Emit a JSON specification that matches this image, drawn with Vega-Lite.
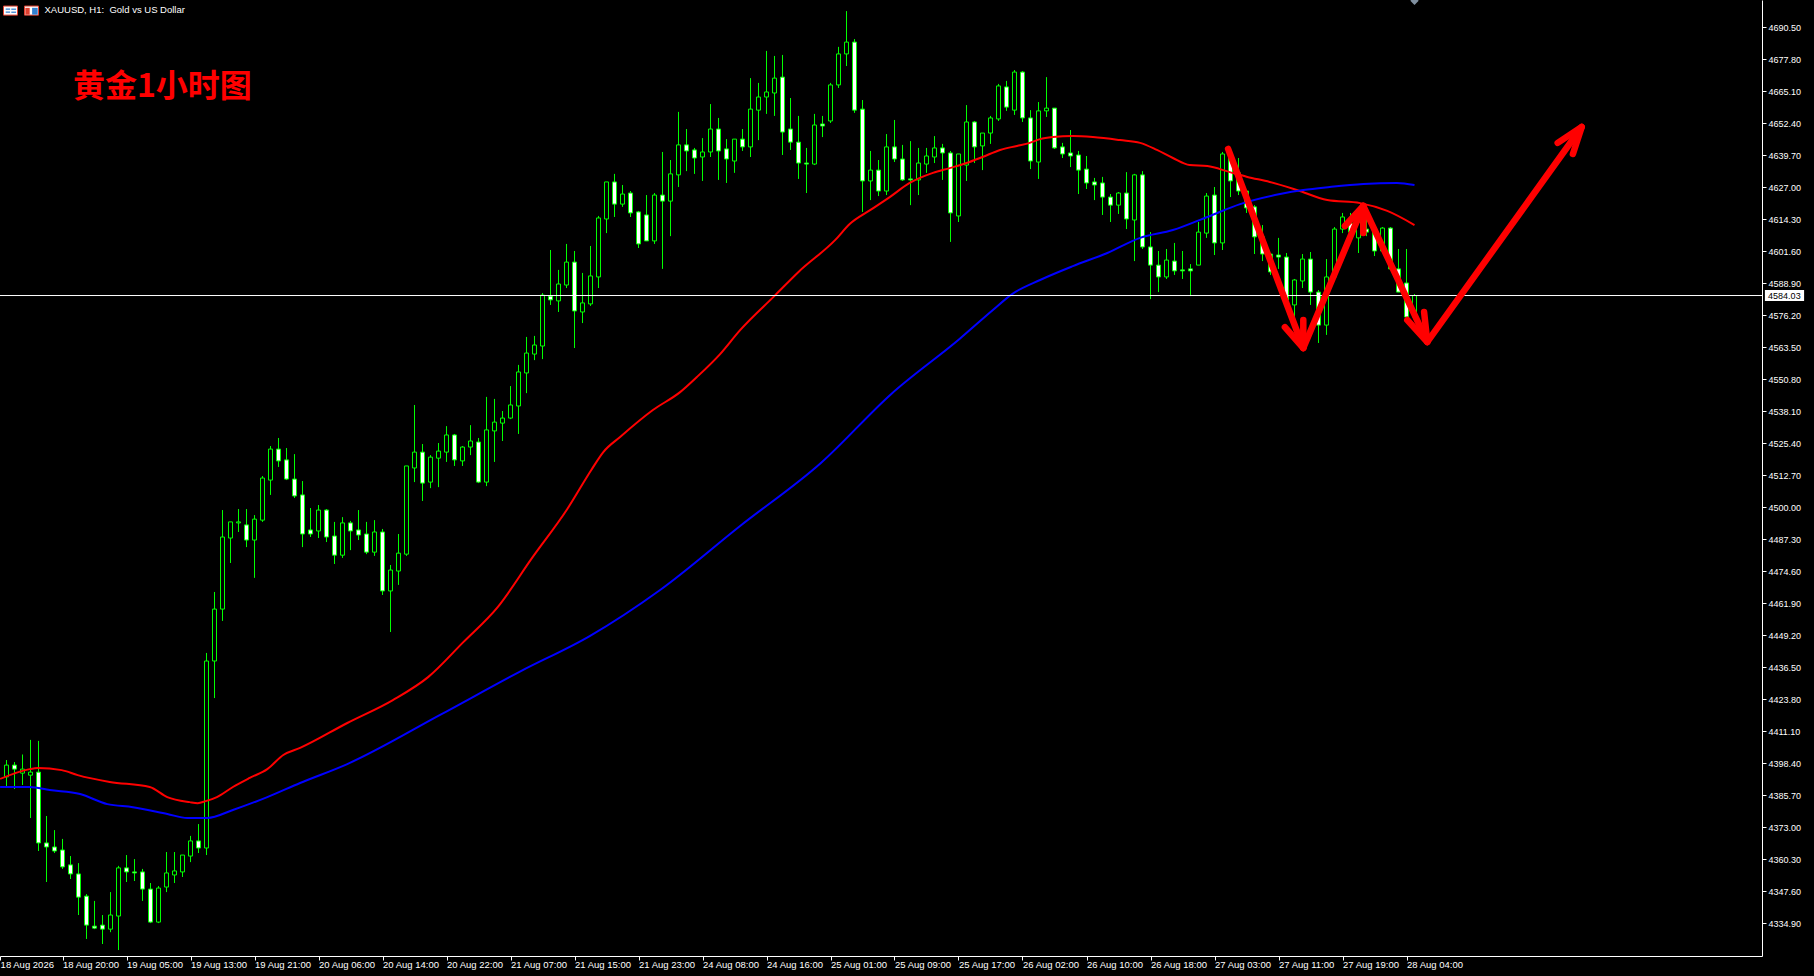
{"$schema":"https://vega.github.io/schema/vega-lite/v6.json","width":1762,"height":956,"autosize":"none","padding":{"left":0,"top":0,"right":52,"bottom":20},"background":"#000000","config":{"view":{"stroke":null},"font":"Liberation Sans","axis":{"labelOverlap":false,"labelBound":false,"labelFlush":false},"axisY":{"labelOverlap":false}},
"datasets":{"candles":[
{"i":0,"o":4393.0,"h":4399.7,"l":4389.4,"c":4397.7},{"i":1,"o":4397.7,"h":4398.9,"l":4388.2,"c":4396.1},{"i":2,"o":4394.5,"h":4401.9,"l":4389.8,"c":4396.1},{"i":3,"o":4393.7,"h":4407.7,"l":4376.7,"c":4394.9},{"i":4,"o":4394.9,"h":4407.3,"l":4363.6,"c":4366.8},{"i":5,"o":4366.8,"h":4377.5,"l":4351.3,"c":4365.2},{"i":6,"o":4365.2,"h":4371.9,"l":4362.8,"c":4363.6},{"i":7,"o":4364.0,"h":4368.4,"l":4356.5,"c":4357.3},{"i":8,"o":4358.1,"h":4361.6,"l":4352.5,"c":4354.5},{"i":9,"o":4354.5,"h":4358.8,"l":4338.2,"c":4345.3},
{"i":10,"o":4345.7,"h":4346.5,"l":4328.7,"c":4334.2},{"i":11,"o":4333.8,"h":4343.8,"l":4332.6,"c":4333.0},{"i":12,"o":4334.2,"h":4338.2,"l":4326.7,"c":4332.6},{"i":13,"o":4332.6,"h":4347.3,"l":4331.4,"c":4338.2},{"i":14,"o":4337.8,"h":4357.7,"l":4324.3,"c":4356.9},{"i":15,"o":4356.9,"h":4362.0,"l":4351.3,"c":4355.3},{"i":16,"o":4355.3,"h":4360.4,"l":4351.7,"c":4354.9},{"i":17,"o":4355.3,"h":4356.5,"l":4343.8,"c":4348.5},{"i":18,"o":4348.5,"h":4350.9,"l":4335.0,"c":4335.4},{"i":19,"o":4335.4,"h":4349.7,"l":4335.0,"c":4348.9},
{"i":20,"o":4349.3,"h":4363.2,"l":4347.3,"c":4354.9},{"i":21,"o":4354.1,"h":4363.2,"l":4350.9,"c":4355.7},{"i":22,"o":4355.3,"h":4362.0,"l":4353.3,"c":4362.0},{"i":23,"o":4361.6,"h":4369.6,"l":4359.2,"c":4367.6},{"i":24,"o":4367.6,"h":4374.3,"l":4362.8,"c":4364.8},{"i":25,"o":4364.8,"h":4442.2,"l":4362.0,"c":4439.0},{"i":26,"o":4439.0,"h":4466.4,"l":4424.3,"c":4459.6},{"i":27,"o":4459.6,"h":4498.9,"l":4454.9,"c":4488.2},{"i":28,"o":4487.8,"h":4494.2,"l":4477.9,"c":4494.2},{"i":29,"o":4493.8,"h":4499.3,"l":4490.2,"c":4494.2},
{"i":30,"o":4493.0,"h":4499.3,"l":4484.2,"c":4487.0},{"i":31,"o":4487.0,"h":4496.9,"l":4472.0,"c":4495.3},{"i":32,"o":4494.9,"h":4512.4,"l":4494.2,"c":4511.6},{"i":33,"o":4510.8,"h":4524.3,"l":4504.9,"c":4523.1},{"i":34,"o":4523.1,"h":4527.5,"l":4516.0,"c":4518.4},{"i":35,"o":4518.8,"h":4523.5,"l":4510.8,"c":4511.2},{"i":36,"o":4511.2,"h":4521.1,"l":4503.7,"c":4504.5},{"i":37,"o":4504.9,"h":4510.4,"l":4484.2,"c":4489.4},{"i":38,"o":4491.0,"h":4499.7,"l":4488.2,"c":4489.4},{"i":39,"o":4490.6,"h":4500.9,"l":4487.8,"c":4498.9},
{"i":40,"o":4498.9,"h":4499.3,"l":4486.2,"c":4488.2},{"i":41,"o":4488.6,"h":4494.2,"l":4477.5,"c":4481.0},{"i":42,"o":4481.0,"h":4496.1,"l":4479.9,"c":4493.8},{"i":43,"o":4493.8,"h":4494.6,"l":4483.0,"c":4490.6},{"i":44,"o":4491.0,"h":4498.9,"l":4487.0,"c":4489.0},{"i":45,"o":4489.4,"h":4494.2,"l":4481.4,"c":4482.2},{"i":46,"o":4482.2,"h":4494.9,"l":4480.7,"c":4490.2},{"i":47,"o":4490.2,"h":4491.4,"l":4465.2,"c":4466.8},{"i":48,"o":4466.8,"h":4477.1,"l":4450.5,"c":4475.1},{"i":49,"o":4474.7,"h":4489.4,"l":4469.2,"c":4481.8},
{"i":50,"o":4481.4,"h":4516.4,"l":4480.7,"c":4516.4},{"i":51,"o":4515.6,"h":4540.6,"l":4510.0,"c":4521.9},{"i":52,"o":4521.9,"h":4525.1,"l":4502.5,"c":4509.6},{"i":53,"o":4510.0,"h":4520.7,"l":4507.6,"c":4519.9},{"i":54,"o":4519.5,"h":4525.5,"l":4508.0,"c":4522.3},{"i":55,"o":4521.9,"h":4532.2,"l":4518.0,"c":4528.7},{"i":56,"o":4528.7,"h":4529.1,"l":4516.4,"c":4518.8},{"i":57,"o":4518.4,"h":4524.3,"l":4516.4,"c":4523.9},{"i":58,"o":4523.9,"h":4532.6,"l":4520.7,"c":4526.3},{"i":59,"o":4525.9,"h":4527.5,"l":4509.6,"c":4510.0},
{"i":60,"o":4510.0,"h":4543.8,"l":4508.4,"c":4530.7},{"i":61,"o":4530.3,"h":4543.0,"l":4518.0,"c":4533.8},{"i":62,"o":4533.4,"h":4538.2,"l":4526.3,"c":4535.4},{"i":63,"o":4535.4,"h":4548.1,"l":4535.0,"c":4540.6},{"i":64,"o":4540.2,"h":4556.5,"l":4529.1,"c":4553.7},{"i":65,"o":4553.3,"h":4567.6,"l":4545.3,"c":4561.2},{"i":66,"o":4560.8,"h":4568.0,"l":4558.4,"c":4564.4},{"i":67,"o":4564.0,"h":4585.0,"l":4558.8,"c":4584.2},{"i":68,"o":4583.8,"h":4602.1,"l":4580.3,"c":4582.3},{"i":69,"o":4581.9,"h":4594.2,"l":4577.5,"c":4588.6},
{"i":70,"o":4588.2,"h":4604.5,"l":4587.0,"c":4597.3},{"i":71,"o":4597.3,"h":4601.7,"l":4563.2,"c":4577.9},{"i":72,"o":4577.5,"h":4593.0,"l":4573.1,"c":4581.1},{"i":73,"o":4580.7,"h":4603.7,"l":4579.9,"c":4591.8},{"i":74,"o":4591.4,"h":4615.6,"l":4587.0,"c":4614.8},{"i":75,"o":4614.4,"h":4629.1,"l":4608.8,"c":4629.1},{"i":76,"o":4629.1,"h":4632.3,"l":4615.2,"c":4620.3},{"i":77,"o":4620.3,"h":4627.9,"l":4619.2,"c":4624.3},{"i":78,"o":4624.7,"h":4625.5,"l":4615.2,"c":4616.8},{"i":79,"o":4617.2,"h":4617.6,"l":4602.9,"c":4604.5},
{"i":80,"o":4616.0,"h":4623.9,"l":4605.7,"c":4605.7},{"i":81,"o":4605.7,"h":4624.7,"l":4604.5,"c":4623.9},{"i":82,"o":4623.9,"h":4641.0,"l":4594.6,"c":4621.5},{"i":83,"o":4621.5,"h":4637.8,"l":4607.6,"c":4632.3},{"i":84,"o":4631.9,"h":4656.9,"l":4627.1,"c":4643.8},{"i":85,"o":4643.8,"h":4650.1,"l":4633.4,"c":4641.4},{"i":86,"o":4641.8,"h":4642.6,"l":4632.3,"c":4638.6},{"i":87,"o":4639.0,"h":4646.5,"l":4629.5,"c":4641.0},{"i":88,"o":4641.0,"h":4660.0,"l":4639.0,"c":4650.1},{"i":89,"o":4650.1,"h":4654.5,"l":4629.9,"c":4641.4},
{"i":90,"o":4642.2,"h":4646.1,"l":4628.7,"c":4638.2},{"i":91,"o":4637.4,"h":4646.1,"l":4632.7,"c":4646.1},{"i":92,"o":4646.1,"h":4650.1,"l":4641.4,"c":4643.0},{"i":93,"o":4643.0,"h":4670.3,"l":4639.0,"c":4658.0},{"i":94,"o":4657.6,"h":4668.4,"l":4645.7,"c":4662.8},{"i":95,"o":4662.8,"h":4681.1,"l":4656.1,"c":4664.8},{"i":96,"o":4664.4,"h":4679.1,"l":4655.3,"c":4670.3},{"i":97,"o":4670.7,"h":4679.5,"l":4639.8,"c":4648.9},{"i":98,"o":4650.1,"h":4662.4,"l":4641.8,"c":4644.9},{"i":99,"o":4644.9,"h":4655.3,"l":4630.3,"c":4636.6},
{"i":100,"o":4636.6,"h":4642.6,"l":4624.7,"c":4636.2},{"i":101,"o":4636.2,"h":4656.1,"l":4635.8,"c":4651.7},{"i":102,"o":4652.1,"h":4655.3,"l":4646.9,"c":4651.3},{"i":103,"o":4653.3,"h":4668.4,"l":4652.5,"c":4667.6},{"i":104,"o":4667.6,"h":4682.7,"l":4666.4,"c":4679.9},{"i":105,"o":4679.9,"h":4696.9,"l":4675.1,"c":4684.6},{"i":106,"o":4684.6,"h":4685.8,"l":4656.5,"c":4657.6},{"i":107,"o":4658.0,"h":4661.6,"l":4617.2,"c":4629.5},{"i":108,"o":4629.5,"h":4641.4,"l":4621.9,"c":4633.8},{"i":109,"o":4633.8,"h":4637.8,"l":4623.5,"c":4625.5},
{"i":110,"o":4625.5,"h":4648.1,"l":4623.9,"c":4643.0},{"i":111,"o":4643.0,"h":4653.7,"l":4637.0,"c":4638.2},{"i":112,"o":4638.2,"h":4643.8,"l":4629.5,"c":4629.9},{"i":113,"o":4630.3,"h":4645.3,"l":4619.9,"c":4629.9},{"i":114,"o":4629.9,"h":4642.6,"l":4623.9,"c":4636.6},{"i":115,"o":4636.2,"h":4642.6,"l":4632.7,"c":4639.4},{"i":116,"o":4639.0,"h":4647.3,"l":4636.6,"c":4642.6},{"i":117,"o":4642.6,"h":4644.2,"l":4629.9,"c":4640.6},{"i":118,"o":4640.6,"h":4641.4,"l":4605.3,"c":4616.8},{"i":119,"o":4615.6,"h":4640.2,"l":4613.2,"c":4640.2},
{"i":120,"o":4635.8,"h":4659.6,"l":4629.5,"c":4652.9},{"i":121,"o":4652.9,"h":4653.3,"l":4636.6,"c":4643.0},{"i":122,"o":4643.4,"h":4648.5,"l":4633.8,"c":4648.5},{"i":123,"o":4648.5,"h":4655.3,"l":4644.2,"c":4654.5},{"i":124,"o":4654.1,"h":4668.0,"l":4653.3,"c":4667.2},{"i":125,"o":4666.8,"h":4669.2,"l":4657.3,"c":4658.8},{"i":126,"o":4657.6,"h":4673.5,"l":4655.7,"c":4672.7},{"i":127,"o":4672.7,"h":4673.1,"l":4652.9,"c":4654.5},{"i":128,"o":4654.5,"h":4657.6,"l":4634.2,"c":4637.4},{"i":129,"o":4637.0,"h":4660.8,"l":4630.3,"c":4657.3},
{"i":130,"o":4657.3,"h":4670.7,"l":4654.9,"c":4658.4},{"i":131,"o":4658.4,"h":4658.4,"l":4642.2,"c":4642.6},{"i":132,"o":4643.0,"h":4644.6,"l":4638.6,"c":4640.2},{"i":133,"o":4640.6,"h":4649.7,"l":4635.0,"c":4639.4},{"i":134,"o":4639.8,"h":4641.4,"l":4624.3,"c":4633.8},{"i":135,"o":4634.2,"h":4639.4,"l":4626.3,"c":4628.7},{"i":136,"o":4629.1,"h":4630.7,"l":4621.9,"c":4627.9},{"i":137,"o":4628.7,"h":4631.1,"l":4616.0,"c":4623.1},{"i":138,"o":4623.1,"h":4624.3,"l":4613.2,"c":4619.9},{"i":139,"o":4619.9,"h":4625.1,"l":4616.4,"c":4624.7},
{"i":140,"o":4624.7,"h":4633.0,"l":4610.4,"c":4614.4},{"i":141,"o":4614.0,"h":4632.3,"l":4597.7,"c":4631.9},{"i":142,"o":4631.9,"h":4633.4,"l":4602.5,"c":4603.3},{"i":143,"o":4603.3,"h":4609.2,"l":4582.6,"c":4596.1},{"i":144,"o":4596.1,"h":4601.7,"l":4585.4,"c":4591.4},{"i":145,"o":4591.4,"h":4602.5,"l":4590.6,"c":4598.1},{"i":146,"o":4597.7,"h":4604.9,"l":4592.2,"c":4593.8},{"i":147,"o":4594.2,"h":4601.7,"l":4590.6,"c":4593.8},{"i":148,"o":4594.6,"h":4596.5,"l":4583.8,"c":4593.8},{"i":149,"o":4596.1,"h":4613.2,"l":4596.1,"c":4609.2},
{"i":150,"o":4608.8,"h":4624.7,"l":4606.9,"c":4623.5},{"i":151,"o":4623.9,"h":4627.1,"l":4600.1,"c":4604.9},{"i":152,"o":4604.9,"h":4641.0,"l":4602.1,"c":4640.2},{"i":153,"o":4639.0,"h":4641.8,"l":4623.1,"c":4629.5},{"i":154,"o":4632.7,"h":4638.6,"l":4623.9,"c":4625.5},{"i":155,"o":4625.5,"h":4625.9,"l":4616.8,"c":4618.8},{"i":156,"o":4619.2,"h":4619.9,"l":4600.5,"c":4607.3},{"i":157,"o":4607.3,"h":4612.0,"l":4597.7,"c":4600.5},{"i":158,"o":4600.5,"h":4600.9,"l":4592.2,"c":4593.4},{"i":159,"o":4600.1,"h":4606.9,"l":4594.6,"c":4599.3},
{"i":160,"o":4599.3,"h":4600.9,"l":4580.7,"c":4582.3},{"i":161,"o":4580.3,"h":4590.6,"l":4575.5,"c":4590.2},{"i":162,"o":4589.8,"h":4600.5,"l":4587.0,"c":4598.5},{"i":163,"o":4598.5,"h":4601.3,"l":4580.3,"c":4585.4},{"i":164,"o":4585.4,"h":4586.2,"l":4565.2,"c":4572.3},{"i":165,"o":4572.3,"h":4598.5,"l":4568.4,"c":4591.4},{"i":166,"o":4591.4,"h":4611.2,"l":4591.0,"c":4610.4},{"i":167,"o":4610.4,"h":4616.8,"l":4608.8,"c":4615.2},{"i":168,"o":4612.8,"h":4616.8,"l":4606.1,"c":4609.2},{"i":169,"o":4606.9,"h":4617.2,"l":4600.9,"c":4613.2},
{"i":170,"o":4610.4,"h":4618.0,"l":4607.6,"c":4609.2},{"i":171,"o":4610.0,"h":4611.6,"l":4599.7,"c":4601.7},{"i":172,"o":4601.7,"h":4611.2,"l":4600.9,"c":4610.8},{"i":173,"o":4610.8,"h":4611.2,"l":4594.2,"c":4594.6},{"i":174,"o":4594.6,"h":4602.5,"l":4585.4,"c":4585.4},{"i":175,"o":4589.0,"h":4602.5,"l":4573.5,"c":4575.5},{"i":176,"o":4575.5,"h":4584.6,"l":4574.3,"c":4584.03}
],
"red":[{"i":-0.8,"p":4392.2},{"i":2.9,"p":4396.1},{"i":3.9,"p":4396.5},{"i":6.9,"p":4395.7},{"i":8.9,"p":4393.7},{"i":12.9,"p":4391.0},{"i":17.9,"p":4389.0},{"i":20.1,"p":4385.0},{"i":22.9,"p":4383.0},{"i":23.9,"p":4382.6},{"i":24.9,"p":4383.4},{"i":26.3,"p":4385.0},{"i":28.3,"p":4389.0},{"i":30.4,"p":4392.6},{"i":32.6,"p":4396.1},{"i":34.6,"p":4401.7},{"i":36.7,"p":4404.5},{"i":42.6,"p":4414.4},{"i":48.3,"p":4423.5},{"i":52.7,"p":4432.6},{"i":57.1,"p":4446.5},{"i":61.4,"p":4460.4},{"i":65.7,"p":4479.9},{"i":70.1,"p":4499.3},{"i":73.1,"p":4514.8},{"i":74.6,"p":4521.9},{"i":76.7,"p":4527.9},{"i":80.8,"p":4538.6},{"i":84.2,"p":4545.7},{"i":86.3,"p":4551.7},{"i":89.2,"p":4560.8},{"i":91.7,"p":4570.3},{"i":96.1,"p":4584.2},{"i":99,"p":4593.4},{"i":103.6,"p":4606.1},{"i":105.4,"p":4612.4},{"i":108,"p":4618.0},{"i":110.4,"p":4623.1},{"i":112.9,"p":4628.7},{"i":115.8,"p":4632.7},{"i":117.9,"p":4634.6},{"i":120,"p":4636.6},{"i":122,"p":4639.0},{"i":124.2,"p":4641.8},{"i":126.3,"p":4643.4},{"i":127.9,"p":4644.6},{"i":129.2,"p":4646.1},{"i":130.8,"p":4646.9},{"i":133.3,"p":4647.3},{"i":135.8,"p":4646.9},{"i":139.2,"p":4645.7},{"i":141.7,"p":4644.6},{"i":143.8,"p":4641.8},{"i":145.8,"p":4638.6},{"i":147.9,"p":4635.8},{"i":150.1,"p":4635.4},{"i":152.9,"p":4633.0},{"i":155.1,"p":4631.1},{"i":157.9,"p":4629.1},{"i":161.3,"p":4625.9},{"i":165.1,"p":4621.9},{"i":169.2,"p":4620.7},{"i":172.6,"p":4617.6},{"i":176,"p":4612.0}],
"blue":[{"i":-0.8,"p":4389.0},{"i":2.9,"p":4389.0},{"i":5.4,"p":4387.8},{"i":9.2,"p":4386.2},{"i":12.6,"p":4382.2},{"i":15.8,"p":4381.0},{"i":20.1,"p":4378.3},{"i":22.6,"p":4376.7},{"i":25.1,"p":4376.7},{"i":28.3,"p":4379.9},{"i":32.6,"p":4385.0},{"i":36.7,"p":4390.6},{"i":42.6,"p":4398.1},{"i":54.2,"p":4417.6},{"i":64.3,"p":4435.0},{"i":72.9,"p":4448.9},{"i":81.7,"p":4467.2},{"i":91.7,"p":4492.6},{"i":101.8,"p":4517.6},{"i":110.6,"p":4545.0},{"i":119.2,"p":4567.0},{"i":123.3,"p":4578.3},{"i":125.7,"p":4584.6},{"i":129.2,"p":4590.2},{"i":133.3,"p":4595.7},{"i":137.6,"p":4600.9},{"i":141.7,"p":4606.9},{"i":145.8,"p":4610.0},{"i":150.1,"p":4615.2},{"i":154.2,"p":4620.3},{"i":159.2,"p":4624.3},{"i":162.1,"p":4625.9},{"i":165.4,"p":4627.1},{"i":169.6,"p":4628.3},{"i":173.8,"p":4628.7},{"i":176,"p":4627.9}],
"arrows":[{"s":"a1","n":0,"i":152.7,"p":4642.2},{"s":"a1","n":1,"i":162.1,"p":4563.2},{"s":"a1w","n":0,"i":159.8,"p":4571.5},{"s":"a1w","n":1,"i":162.1,"p":4563.2},{"s":"a1w","n":2,"i":162.1,"p":4574.3},{"s":"a2","n":0,"i":162.1,"p":4563.2},{"s":"a2","n":1,"i":169.6,"p":4619.6},{"s":"a2w","n":0,"i":167.3,"p":4611.6},{"s":"a2w","n":1,"i":169.6,"p":4619.6},{"s":"a2w","n":2,"i":169.6,"p":4608.8},{"s":"a3","n":0,"i":169.6,"p":4619.6},{"s":"a3","n":1,"i":177.6,"p":4565.6},{"s":"a3w","n":0,"i":175.1,"p":4574.3},{"s":"a3w","n":1,"i":177.6,"p":4565.6},{"s":"a3w","n":2,"i":177.2,"p":4577.5},{"s":"a4","n":0,"i":177.6,"p":4565.6},{"s":"a4","n":1,"i":196.9,"p":4650.9},{"s":"a4w","n":0,"i":193.9,"p":4644.6},{"s":"a4w","n":1,"i":196.9,"p":4650.9},{"s":"a4w","n":2,"i":195.8,"p":4640.2}]},
"encoding":{"x":{"field":"i","type":"quantitative","title":null,"scale":{"domain":[-0.8125,219.4375],"nice":false,"zero":false,"padding":0}},"y":{"field":"p","type":"quantitative","title":null,"scale":{"domain":[4321.94,4701.3],"nice":false,"zero":false}}},
"layer":[
{"data":{"name":"candles"},"mark":{"type":"rule","color":"#00ff00","strokeWidth":1},"encoding":{"x":{"field":"i","type":"quantitative","title":null,"scale":{"domain":[-0.8125,219.4375],"nice":false,"zero":false,"padding":0},"axis":{"orient":"bottom","domainColor":"#ffffff","tickColor":"#ffffff","labelColor":"#ffffff","labelFont":"Liberation Sans","labelFontSize":9.5,"labelAlign":"left","labelBaseline":"middle","labelPadding":4,"labelBound":false,"labelFlush":false,"labelOverlap":false,"grid":false,"tickSize":4,"tickCount":60,"values":[-0.8,7,15,23,31,39,47,55,63,71,79,87,95,103,111,119,127,135,143,151,159,167,175],"labelExpr":"datum.value<0?'18 Aug 2026':['18 Aug 20:00','19 Aug 05:00','19 Aug 13:00','19 Aug 21:00','20 Aug 06:00','20 Aug 14:00','20 Aug 22:00','21 Aug 07:00','21 Aug 15:00','21 Aug 23:00','24 Aug 08:00','24 Aug 16:00','25 Aug 01:00','25 Aug 09:00','25 Aug 17:00','26 Aug 02:00','26 Aug 10:00','26 Aug 18:00','27 Aug 03:00','27 Aug 11:00','27 Aug 19:00','28 Aug 04:00'][(datum.value-7)/8]"}},"y":{"field":"h","type":"quantitative","title":null,"scale":{"domain":[4321.94,4701.3],"nice":false,"zero":false},"axis":{"orient":"right","domainColor":"#ffffff","tickColor":"#ffffff","labelColor":"#ffffff","labelFont":"Liberation Sans","labelFontSize":9,"labelPadding":2,"labelOverlap":false,"labelBound":false,"labelFlush":false,"grid":false,"tickSize":4,"tickCount":60,"format":".2f","values":[4690.5,4677.8,4665.1,4652.4,4639.7,4627,4614.3,4601.6,4588.9,4576.2,4563.5,4550.8,4538.1,4525.4,4512.7,4500,4487.3,4474.6,4461.9,4449.2,4436.5,4423.8,4411.1,4398.4,4385.7,4373,4360.3,4347.6,4334.9]}},"y2":{"field":"l"}}},
{"data":{"name":"candles"},"mark":{"type":"bar","width":4,"stroke":"#00ff00","strokeWidth":1},"encoding":{"y":{"field":"o","type":"quantitative","title":null,"scale":{"domain":[4321.94,4701.3],"nice":false,"zero":false}},"y2":{"field":"c"},"fill":{"condition":{"test":"datum.c>=datum.o","value":"#000000"},"value":"#ffffff"}}},
{"data":{"name":"red"},"mark":{"type":"line","color":"#ff0000","strokeWidth":2,"interpolate":"monotone"}},
{"data":{"name":"blue"},"mark":{"type":"line","color":"#0000ff","strokeWidth":2,"interpolate":"monotone"}},
{"data":{"values":[{"i":-0.8125,"p":4584.03},{"i":219.4375,"p":4584.03}]},"mark":{"type":"line","color":"#ffffff","strokeWidth":1}},
{"data":{"name":"arrows"},"mark":{"type":"line","color":"#ff0000","strokeWidth":6.5,"strokeCap":"round","strokeJoin":"round"},"encoding":{"detail":{"field":"s"},"order":{"field":"n","type":"quantitative"}}},
{"data":{"values":[{"i":219.8,"i2":224.7,"p":4586.2,"p2":4581.9}]},"mark":{"type":"rect","fill":"#ffffff"},"encoding":{"x2":{"field":"i2"},"y2":{"field":"p2"}}},
{"data":{"values":[{"i":220.2,"p":4584.03,"t":"4584.03"}]},"mark":{"type":"text","align":"left","baseline":"middle","color":"#000000","font":"Liberation Sans","fontSize":9},"encoding":{"text":{"field":"t"}}},
{"data":{"values":[{"i":176,"p":4701.0}]},"mark":{"type":"point","shape":"diamond","filled":true,"color":"#8090a0","size":70,"opacity":1}},
{"data":{"values":[{"i":8.3,"p":4666.9,"t":"黄金1小时图"}]},"mark":{"type":"text","align":"left","baseline":"middle","color":"#ff0000","font":"Noto Sans CJK SC","fontWeight":"bold","fontSize":32},"encoding":{"text":{"field":"t"}}},
{"data":{"values":[{"i":4.75,"p":4697.3,"t":"XAUUSD, H1:\u00a0 Gold vs US Dollar"}]},"mark":{"type":"text","align":"left","baseline":"middle","color":"#ffffff","font":"Liberation Sans","fontSize":9.5},"encoding":{"text":{"field":"t"}}},
{"data":{"values":[{"i":-0.375,"i2":1.375,"p":4698.9,"p2":4695.3},{"i":2.25,"i2":4,"p":4698.9,"p2":4695.3}]},"mark":{"type":"rect","fill":"#ffffff","stroke":"#e04030","strokeWidth":1},"encoding":{"x2":{"field":"i2"},"y2":{"field":"p2"}}},
{"data":{"values":[{"i":-0.1,"i2":0.45,"p":4697.9,"p2":4697.4},{"i":-0.1,"i2":0.45,"p":4696.7,"p2":4696.2},{"i":0.6,"i2":1.2,"p":4697.9,"p2":4697.4},{"i":0.6,"i2":1.2,"p":4696.7,"p2":4696.2},{"i":3.2,"i2":3.9,"p":4698.2,"p2":4695.5}]},"mark":{"type":"rect","fill":"#3080d0"},"encoding":{"x2":{"field":"i2"},"y2":{"field":"p2"}}},
{"data":{"values":[{"i":2.35,"i2":2.9,"p":4698.2,"p2":4695.5}]},"mark":{"type":"rect","fill":"#e04030"},"encoding":{"x2":{"field":"i2"},"y2":{"field":"p2"}}}
]}
